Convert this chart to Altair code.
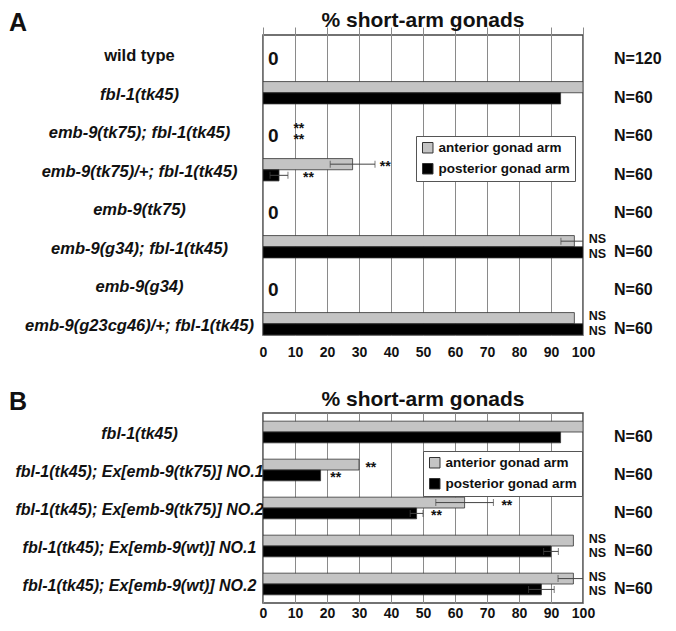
import altair as alt
import pandas as pd

SERIES = ["anterior gonad arm", "posterior gonad arm"]
COLORS = ["#c4c4c4", "#000000"]

# ---------------- Panel A ----------------
A_genotypes = [
    "wild type",
    "fbl-1(tk45)",
    "emb-9(tk75); fbl-1(tk45)",
    "emb-9(tk75)/+; fbl-1(tk45)",
    "emb-9(tk75)",
    "emb-9(g34); fbl-1(tk45)",
    "emb-9(g34)",
    "emb-9(g23cg46)/+; fbl-1(tk45)",
]
A_anterior = [0, 100, 0, 28, 0, 97.3, 0, 97.3]
A_posterior = [0, 93, 0, 5, 0, 100, 0, 100]
A_anterior_err = [0, 0, 0, 7, 0, 4.2, 0, 0]
A_posterior_err = [0, 0, 0, 2.8, 0, 0, 0, 0]
A_n = ["N=120", "N=60", "N=60", "N=60", "N=60", "N=60", "N=60", "N=60"]
A_sig_genotype = [
    "emb-9(tk75); fbl-1(tk45)", "emb-9(tk75); fbl-1(tk45)",
    "emb-9(tk75)/+; fbl-1(tk45)", "emb-9(tk75)/+; fbl-1(tk45)",
    "emb-9(g34); fbl-1(tk45)", "emb-9(g34); fbl-1(tk45)",
    "emb-9(g23cg46)/+; fbl-1(tk45)", "emb-9(g23cg46)/+; fbl-1(tk45)",
]
A_sig_series = [SERIES[0], SERIES[1]] * 4
A_sig_x = [9.5, 9.5, 36.5, 12.5, 101.8, 101.8, 101.8, 101.8]
A_sig_text = ["**", "**", "**", "**", "NS", "NS", "NS", "NS"]

# ---------------- Panel B ----------------
B_genotypes = [
    "fbl-1(tk45)",
    "fbl-1(tk45); Ex[emb-9(tk75)] NO.1",
    "fbl-1(tk45); Ex[emb-9(tk75)] NO.2",
    "fbl-1(tk45); Ex[emb-9(wt)] NO.1",
    "fbl-1(tk45); Ex[emb-9(wt)] NO.2",
]
B_anterior = [100, 30, 63, 97, 97]
B_posterior = [93, 18, 48, 90, 87]
B_anterior_err = [0, 0, 9, 0, 4.8]
B_posterior_err = [0, 0, 2, 2.3, 4]
B_n = ["N=60", "N=60", "N=60", "N=60", "N=60"]
B_sig_genotype = [
    "fbl-1(tk45); Ex[emb-9(tk75)] NO.1", "fbl-1(tk45); Ex[emb-9(tk75)] NO.1",
    "fbl-1(tk45); Ex[emb-9(tk75)] NO.2", "fbl-1(tk45); Ex[emb-9(tk75)] NO.2",
    "fbl-1(tk45); Ex[emb-9(wt)] NO.1", "fbl-1(tk45); Ex[emb-9(wt)] NO.1",
    "fbl-1(tk45); Ex[emb-9(wt)] NO.2", "fbl-1(tk45); Ex[emb-9(wt)] NO.2",
]
B_sig_series = [SERIES[0], SERIES[1]] * 4
B_sig_x = [32, 21, 74.5, 52.5, 101.8, 101.8, 101.8, 101.8]
B_sig_text = ["**", "**", "**", "**", "NS", "NS", "NS", "NS"]

X_TICKS = list(range(0, 101, 10))
TITLE = "% short-arm gonads"
FONT = "Liberation Sans"
W = 320


def panel(letter, genotypes, ant, post, ant_err, post_err, n_labels,
          sig_g, sig_s, sig_x, sig_t, height, yrange, pad_in, legend_xy,
          xlabel_pad, head_y, ylab_size):
    rows = []
    for g, a, p, ae, pe in zip(genotypes, ant, post, ant_err, post_err):
        rows.append({"genotype": g, "series": SERIES[0], "value": a, "err": ae})
        rows.append({"genotype": g, "series": SERIES[1], "value": p, "err": pe})
    df = pd.DataFrame(rows)
    df["lo"] = df["value"] - df["err"]
    df["hi"] = df["value"] + df["err"]
    df_err = df[df["err"] > 0]
    df_zero = pd.DataFrame({
        "genotype": [g for g, a, p in zip(genotypes, ant, post) if a == 0 and p == 0],
    })
    df_zero["x"] = 0
    df_zero["t"] = "0"
    df_n = pd.DataFrame({"genotype": genotypes, "t": n_labels})
    df_sig = pd.DataFrame({"genotype": sig_g, "series": sig_s, "x": sig_x, "t": sig_t})
    df_letter = pd.DataFrame({"t": [letter]})
    df_head = pd.DataFrame({"t": [TITLE]})

    yaxis = alt.Axis(
        title=None, domain=False, ticks=False, labelAlign="center",
        labelPadding=124, labelFontSize=ylab_size, labelFontWeight="bold",
        labelFontStyle={"condition": {"test": "datum.value === 'wild type'", "value": "normal"},
                        "value": "italic"},
        labelLimit=400, labelColor="#111", labelOffset=2,
    )
    xaxis = alt.Axis(
        title=None, domain=False, ticks=False, values=X_TICKS, labelFontSize=14,
        labelFontWeight="bold", labelColor="#111", labelPadding=xlabel_pad,
        grid=True, gridColor="#8a8a8a", gridWidth=1, labelFlush=False,
    )

    def Y():
        return alt.Y("genotype:N", sort=genotypes, axis=yaxis,
                     scale=alt.Scale(domain=genotypes, range=[0, yrange],
                                     paddingInner=pad_in, paddingOuter=pad_in / 2))

    def YO():
        return alt.YOffset("series:N", sort=SERIES,
                           scale=alt.Scale(domain=SERIES, paddingInner=0, paddingOuter=0))

    def X(field):
        return alt.X(field, axis=xaxis, scale=alt.Scale(domain=[0, 100], nice=False, zero=True))

    bars = alt.Chart(df).transform_filter("datum.value > 0").mark_bar(
        stroke="#333", strokeWidth=0.8, clip=True
    ).encode(
        y=Y(), yOffset=YO(), x=X("value:Q"),
        color=alt.Color("series:N", scale=alt.Scale(domain=SERIES, range=COLORS),
                        legend=alt.Legend(
                            title=None, orient="none", legendX=legend_xy[0], legendY=legend_xy[1],
                            labelFontSize=13.5, labelFontWeight="bold", labelColor="#111",
                            symbolType="square", symbolSize=110, symbolStrokeColor="#333",
                            symbolStrokeWidth=1, symbolOpacity=1, symbolOffset=0,
                            strokeColor="#555", fillColor="white", padding=5, rowPadding=6,
                            labelOffset=4)),
    )
    err_rule = alt.Chart(df_err).mark_rule(color="#444", strokeWidth=1, clip=True).encode(
        y=Y(), yOffset=YO(), x=X("lo:Q"), x2="hi:Q")
    cap_lo = alt.Chart(df_err).mark_tick(color="#444", thickness=1, size=7, clip=True).encode(
        y=Y(), yOffset=YO(), x=X("lo:Q"))
    cap_hi = alt.Chart(df_err).mark_tick(color="#444", thickness=1, size=7, clip=True).encode(
        y=Y(), yOffset=YO(), x=X("hi:Q"))
    zeros = alt.Chart(df_zero).mark_text(
        align="left", baseline="middle", fontSize=19, fontWeight="bold", dx=5, dy=5, color="#111"
    ).encode(y=Y(), x=X("x:Q"), text="t:N")
    stars = alt.Chart(df_sig).transform_filter("datum.t === '**'").mark_text(
        align="left", baseline="middle", fontSize=14, fontWeight="bold", dy=3, color="#111"
    ).encode(y=Y(), yOffset=YO(), x=X("x:Q"), text="t:N")
    ns_ant = alt.Chart(df_sig).transform_filter(
        f"datum.t === 'NS' && datum.series === '{SERIES[0]}'"
    ).mark_text(
        align="left", baseline="middle", fontSize=12.5, fontWeight="bold", dy=-2, color="#111"
    ).encode(y=Y(), yOffset=YO(), x=X("x:Q"), text="t:N")
    ns_post = alt.Chart(df_sig).transform_filter(
        f"datum.t === 'NS' && datum.series === '{SERIES[1]}'"
    ).mark_text(
        align="left", baseline="middle", fontSize=12.5, fontWeight="bold", dy=1.5, color="#111"
    ).encode(y=Y(), yOffset=YO(), x=X("x:Q"), text="t:N")
    nlab = alt.Chart(df_n).mark_text(
        align="left", baseline="middle", fontSize=16, fontWeight="bold", dy=5, color="#111"
    ).encode(y=Y(), x=alt.value(W + 31), text="t:N")
    let = alt.Chart(df_letter).mark_text(
        align="left", baseline="middle", fontSize=25, fontWeight="bold", color="#111"
    ).encode(x=alt.value(-254), y=alt.value(head_y + 2), text="t:N")
    head = alt.Chart(df_head).mark_text(
        align="center", baseline="middle", fontSize=21, fontWeight="bold", color="#111"
    ).encode(x=alt.value(W / 2), y=alt.value(head_y), text="t:N")

    return alt.layer(bars, err_rule, cap_lo, cap_hi, zeros, stars, ns_ant, ns_post,
                     nlab, let, head).properties(width=W, height=height)


pA = panel("A", A_genotypes, A_anterior, A_posterior, A_anterior_err, A_posterior_err, A_n,
           A_sig_genotype, A_sig_series, A_sig_x, A_sig_text,
           height=300, yrange=308, pad_in=0.42, legend_xy=(153, 101), xlabel_pad=10,
           head_y=-14, ylab_size=16.5)
pB = panel("B", B_genotypes, B_anterior, B_posterior, B_anterior_err, B_posterior_err, B_n,
           B_sig_genotype, B_sig_series, B_sig_x, B_sig_text,
           height=190, yrange=190, pad_in=0.43, legend_xy=(160, 38), xlabel_pad=3,
           head_y=-13, ylab_size=16)

chart = alt.vconcat(pA, pB, spacing=28).resolve_scale(
    color="independent", x="independent", y="independent", yOffset="independent"
).properties(
    padding={"left": 0, "top": 1, "right": 2, "bottom": 0}
).configure(
    font=FONT, background="white"
).configure_view(
    stroke="#444", strokeWidth=1.5
)

chart.save("out.html", embed_options={"renderer": "svg", "actions": False})
